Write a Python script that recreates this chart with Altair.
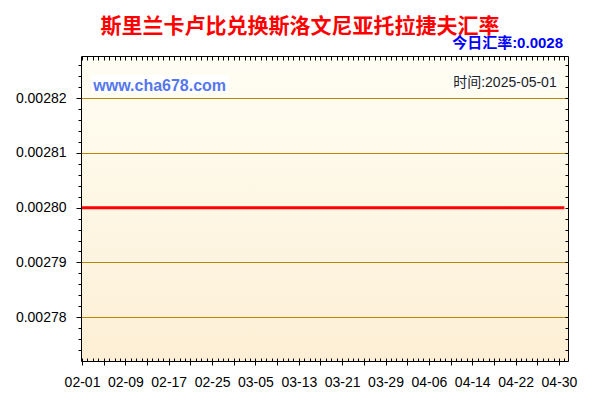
import altair as alt
import pandas as pd
from datetime import date, timedelta

# ---- texts ----
title_text = "斯里兰卡卢比兑换斯洛文尼亚托拉捷夫汇率"
today_text = "今日汇率:0.0028"
site_text = "www.cha678.com"
time_text = "时间:2025-05-01"

# ---- data (flat line at 0.0028) ----
dates = ["2025-02-01", "2025-02-09", "2025-02-17", "2025-02-25", "2025-03-05",
         "2025-03-13", "2025-03-21", "2025-03-29", "2025-04-06", "2025-04-14",
         "2025-04-22", "2025-04-30", "2025-05-01"]
rates = [0.0028, 0.0028, 0.0028, 0.0028, 0.0028, 0.0028, 0.0028,
         0.0028, 0.0028, 0.0028, 0.0028, 0.0028, 0.0028]

# ---- tick values ----
y_major = [0.00278, 0.00279, 0.00280, 0.00281, 0.00282]
y_grid = [0.00278, 0.00279, 0.00281, 0.00282]
y_minor = [round(0.002774 + i * 0.000002, 6) for i in range(27)]

start = date(2025, 2, 1)
day_ticks = [start + timedelta(days=i) for i in range(90)]        # 02-01 .. 05-01
major_x_ticks = [start + timedelta(days=4 * i) for i in range(23)]  # every 4 days


def dt(d, h=0, m=0):
    return alt.DateTime(year=d.year, month=d.month, date=d.day, hours=h, minutes=m, utc=True)


W, H = 487, 305

df = pd.DataFrame({"date": dates, "rate": rates})
one = pd.DataFrame({"k": [0]})

xscale = alt.Scale(type="utc", nice=False,
                   domain=[dt(date(2025, 1, 31), 19, 30), dt(date(2025, 5, 1), 16, 0)])
yscale = alt.Scale(domain=[0.002772, 0.0028277], zero=False, nice=False)

FONT = "Liberation Sans"

gradient = alt.LinearGradient(
    gradient="linear",
    stops=[alt.GradientStop(color="#fffef4", offset=0),
           alt.GradientStop(color="#fdefd5", offset=1)],
    x1=0, x2=0, y1=0, y2=1,
)

bg = alt.Chart(one).mark_rect(fill=gradient).encode(
    x=alt.value(0), x2=alt.value(W), y=alt.value(0), y2=alt.value(H)
)

label_expr = ("(round((datum.value - 1738368000000) / 86400000) % 8 == 0) ? "
              "utcFormat(datum.value, '%m-%d') : ''")

line = alt.Chart(df).mark_line(color="#ff0000", strokeWidth=3).encode(
    x=alt.X("date:T", scale=xscale,
            axis=alt.Axis(orient="bottom", values=[dt(d) for d in major_x_ticks],
                          labelExpr=label_expr, tickSize=4, domain=False, grid=False,
                          title=None, labelFont=FONT, labelFontSize=14, labelColor="#000",
                          tickColor="#000", labelPadding=10, labelFlush=False,
                          labelOverlap=False, labelBound=False, zindex=1)),
    y=alt.Y("rate:Q", scale=yscale,
            axis=alt.Axis(orient="left", values=y_major, format=".5f", tickSize=5,
                          domain=False, grid=False, title=None, labelFont=FONT,
                          labelFontSize=14, labelColor="#000", tickColor="#000",
                          labelPadding=10, labelOverlap=False, labelFlush=False, zindex=1)),
)

minor1 = alt.Chart(df).mark_point(opacity=0).encode(
    x=alt.X("date:T", scale=xscale,
            axis=alt.Axis(orient="bottom", values=[dt(d) for d in day_ticks], labels=False,
                          tickSize=3, offset=-3, domain=False, grid=False, title=None,
                          tickColor="#000", zindex=1)),
    y=alt.Y("rate:Q", scale=yscale,
            axis=alt.Axis(orient="left", values=y_minor, labels=False, tickSize=3,
                          domain=False, grid=False, title=None, tickColor="#000", zindex=1)),
)

minor2 = alt.Chart(df).mark_point(opacity=0).encode(
    x=alt.X("date:T", scale=xscale,
            axis=alt.Axis(orient="top", values=[dt(d) for d in day_ticks], labels=False,
                          tickSize=4, offset=-4, domain=False, grid=False, title=None,
                          tickColor="#000", zindex=1)),
    y=alt.Y("rate:Q", scale=yscale,
            axis=alt.Axis(orient="right", values=y_minor, labels=False, tickSize=3,
                          offset=-3, domain=False, grid=False, title=None,
                          tickColor="#000", zindex=1)),
)

grid = alt.Chart(df).mark_point(opacity=0).encode(
    x=alt.X("date:T", scale=xscale, axis=None),
    y=alt.Y("rate:Q", scale=yscale,
            axis=alt.Axis(orient="left", values=y_grid, labels=False, ticks=False,
                          domain=False, grid=True, gridColor="#b8860b", gridWidth=1,
                          title=None, zindex=1)),
)

frame = alt.Chart(one).mark_rect(fillOpacity=0, stroke="#000", strokeWidth=1).encode(
    x=alt.value(0.5), x2=alt.value(W + 0.5), y=alt.value(0.5), y2=alt.value(H + 0.5)
)

box_site = alt.Chart(one).mark_rect(fill="#ffffff").encode(
    x=alt.value(10), x2=alt.value(148), y=alt.value(19), y2=alt.value(37)
)
box_time = alt.Chart(one).mark_rect(fill="#ffffff").encode(
    x=alt.value(371), x2=alt.value(477), y=alt.value(18), y2=alt.value(33)
)

t_title = alt.Chart(one).mark_text(
    text=title_text, font="Liberation Sans, Noto Sans CJK SC", fontSize=21,
    fontWeight="bold", color="#ff0000", align="center", baseline="alphabetic"
).encode(x=alt.value(219), y=alt.value(-23.2))

t_today = alt.Chart(one).mark_text(
    text=today_text, font="Liberation Sans, Noto Sans CJK SC", fontSize=15,
    fontWeight="bold", color="#0000ff", align="right", baseline="alphabetic"
).encode(x=alt.value(482), y=alt.value(-7.8))

t_site = alt.Chart(one).mark_text(
    text=site_text, font="Liberation Sans", fontSize=16, fontWeight="bold",
    color="#5577ee", align="left", baseline="alphabetic"
).encode(x=alt.value(12.3), y=alt.value(34.7))

t_time = alt.Chart(one).mark_text(
    text=time_text, font="Liberation Sans, Noto Sans CJK SC", fontSize=14,
    color="#222222", align="right", baseline="alphabetic"
).encode(x=alt.value(475.7), y=alt.value(30.7))

chart = alt.layer(
    bg, grid, box_site, box_time, line, minor1, minor2, frame,
    t_title, t_today, t_site, t_time
).resolve_scale(
    x="independent", y="independent"
).properties(
    width=W, height=H,
    autosize=alt.AutoSizeParams(type="none"),
    padding={"left": 73, "top": 48, "right": 24, "bottom": 31},
    background="#ffffff",
).configure_view(stroke=None)

chart.save("out.html", embed_options={"renderer": "svg", "actions": False})
